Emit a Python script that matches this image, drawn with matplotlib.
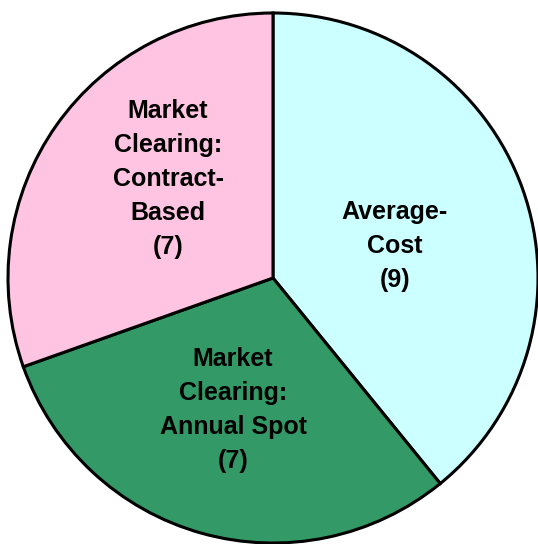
import matplotlib.pyplot as plt

labels = ['Average-\nCost\n(9)', 'Market\nClearing:\nAnnual Spot\n(7)', 'Market\nClearing:\nContract-\nBased\n(7)']
counts = [9, 7, 7]
colors = ['#CCFFFF', '#339966', '#FFC4E1']
# label centres in pixels (x, y from top)
label_pos = [(395, 246), (233, 410), (168, 179)]

W, H = 538, 544
fig = plt.figure(figsize=(W / 100, H / 100), dpi=100)
ax = fig.add_axes([0, 0, 1, 1])
ax.set_xlim(0, W)
ax.set_ylim(0, H)
ax.set_aspect('equal')
ax.axis('off')

ax.pie(counts, colors=colors, startangle=90, counterclock=False,
       center=(273, H - 278), radius=265,
       wedgeprops=dict(edgecolor='black', linewidth=2.2))

for lab, (x, y) in zip(labels, label_pos):
    ax.text(x, H - y, lab, ha='center', va='center', fontsize=18,
            fontweight='bold', family='Liberation Sans', linespacing=1.53)

ax.set_xlim(0, W)
ax.set_ylim(0, H)
fig.savefig('out.png', dpi=100)
